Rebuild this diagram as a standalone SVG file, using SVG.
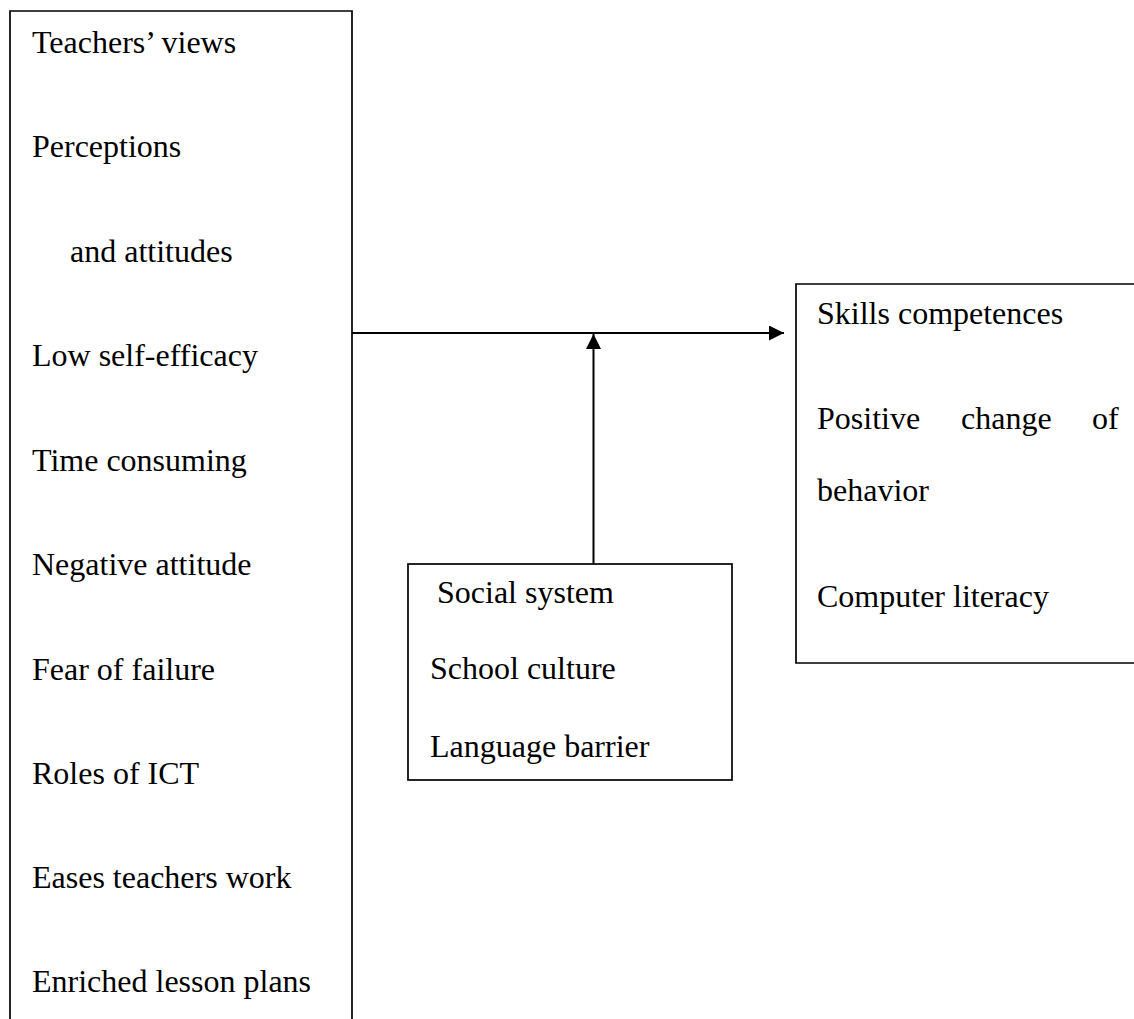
<svg xmlns="http://www.w3.org/2000/svg" width="1134" height="1019" viewBox="0 0 1134 1019">
<style>
  .box { fill: none; stroke: #000; stroke-width: 1.7; }
  .t { font-family: "Liberation Serif", "Times New Roman", serif; font-size: 32px; fill: #000; }
  .line { stroke: #000; stroke-width: 2; fill: none; }
</style>
<defs>
  <marker id="arrow" viewBox="0 0 15 15" refX="15" refY="7.5" markerWidth="15" markerHeight="15" markerUnits="userSpaceOnUse" orient="auto">
    <path d="M0,0 L15,7.5 L0,15 Z" fill="#000"/>
  </marker>
</defs>
<rect width="1134" height="1019" fill="#fff"/>
<g id="node-teachers">
  <path class="box" d="M10,1030 L10,11 L352,11 L352,1030"/>
  <text class="t" x="32" y="53">Teachers’ views</text>
  <text class="t" x="32" y="157">Perceptions</text>
  <text class="t" x="70" y="262">and attitudes</text>
  <text class="t" x="32" y="366">Low self-efficacy</text>
  <text class="t" x="32" y="471">Time consuming</text>
  <text class="t" x="32" y="575">Negative attitude</text>
  <text class="t" x="32" y="680">Fear of failure</text>
  <text class="t" x="32" y="784">Roles of ICT</text>
  <text class="t" x="32" y="888">Eases teachers work</text>
  <text class="t" x="32" y="992">Enriched lesson plans</text>
</g>
<g id="node-outcomes">
  <path class="box" d="M1140,284 L796,284 L796,663 L1140,663"/>
  <text class="t" x="817" y="324">Skills competences</text>
  <text class="t" x="817" y="429">Positive</text>
  <text class="t" x="961" y="429">change</text>
  <text class="t" x="1092" y="429">of</text>
  <text class="t" x="817" y="501">behavior</text>
  <text class="t" x="817" y="607">Computer literacy</text>
</g>
<g id="node-social">
  <rect class="box" x="408" y="564" width="324" height="216"/>
  <text class="t" x="437" y="603">Social system</text>
  <text class="t" x="430" y="679">School culture</text>
  <text class="t" x="430" y="757">Language barrier</text>
</g>
<g id="connectors">
  <line class="line" x1="352" y1="333" x2="784" y2="333" marker-end="url(#arrow)"/>
  <line class="line" x1="593.5" y1="564" x2="593.5" y2="334" marker-end="url(#arrow)"/>
</g>
</svg>
